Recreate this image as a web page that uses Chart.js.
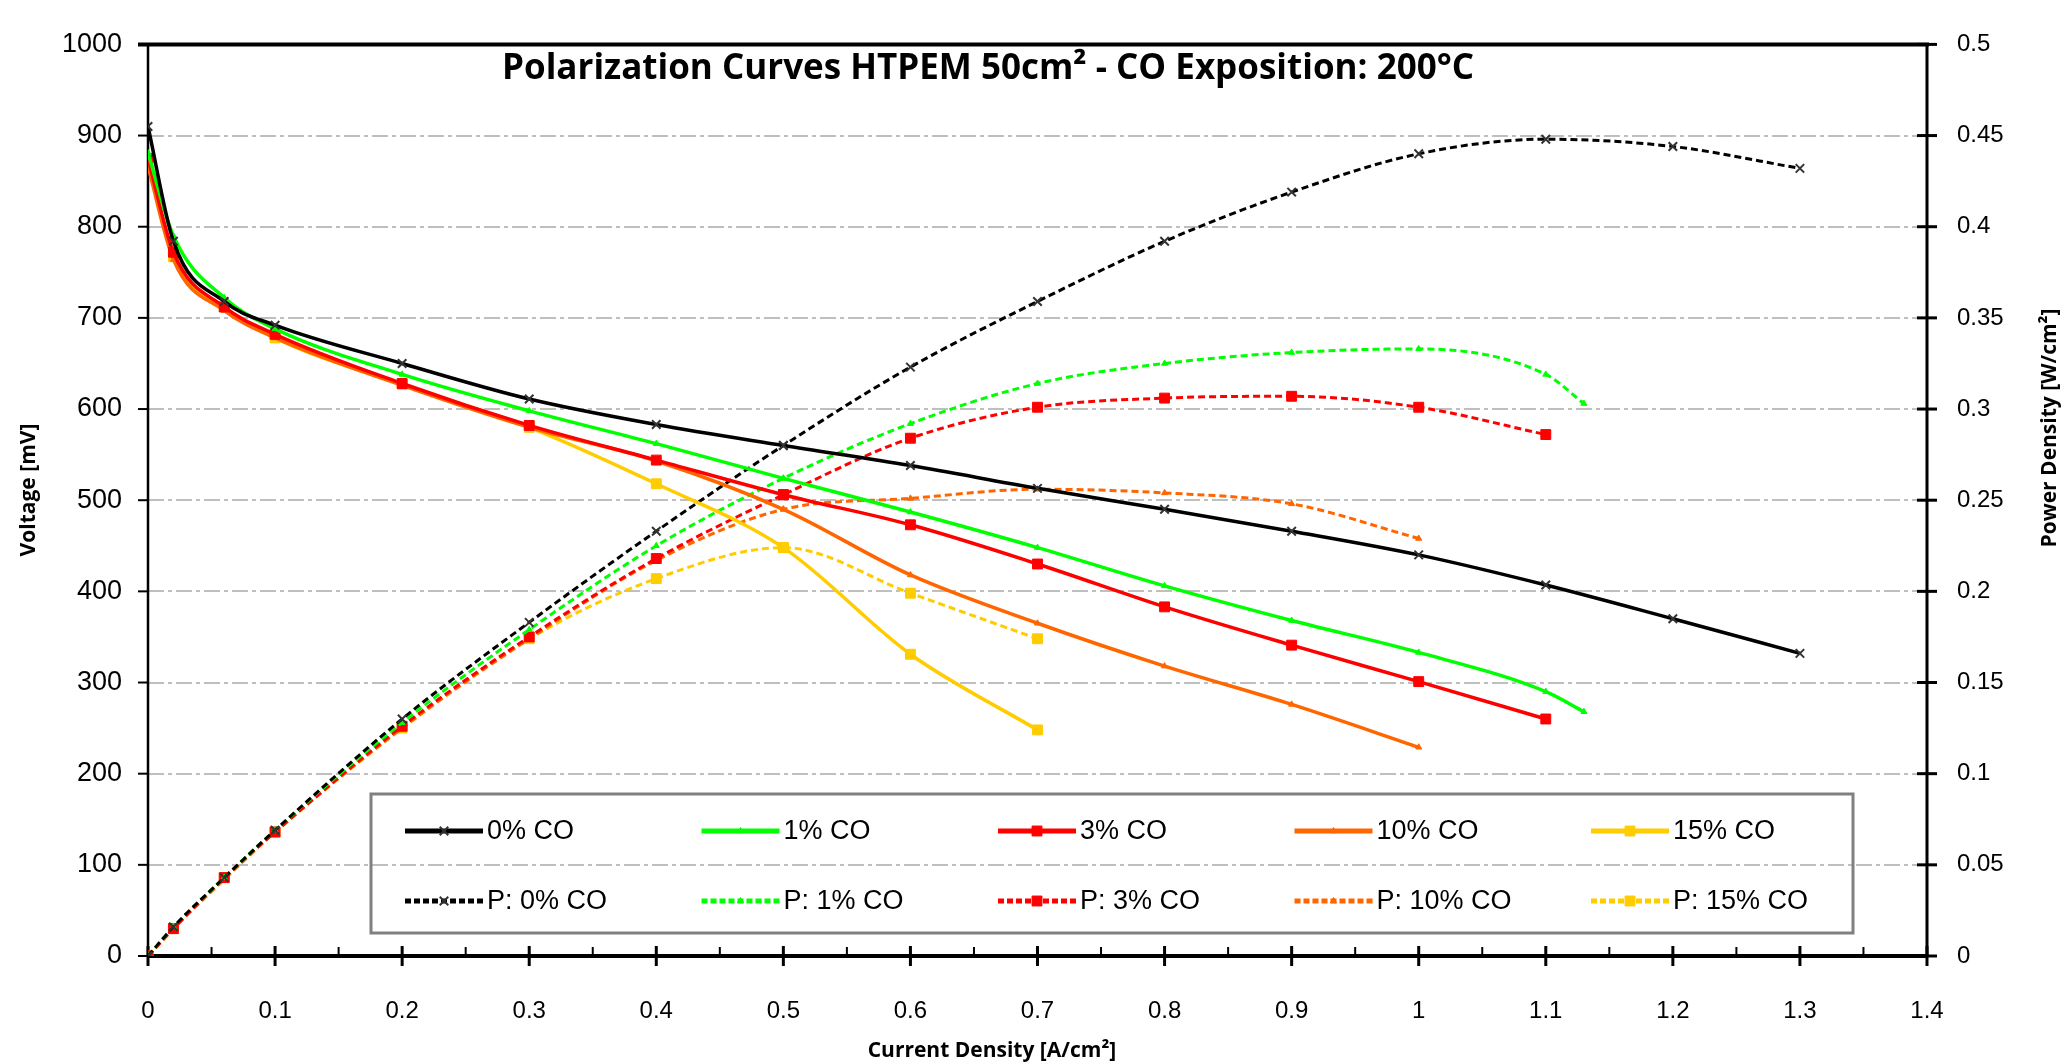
<!DOCTYPE html>
<html>
<head>
<meta charset="utf-8">
<script src="https://cdn.jsdelivr.net/npm/chart.js@4.4.1/dist/chart.umd.min.js"></script>
<style>
  body { margin: 0; background: #fff; }
</style>
</head>
<body>
<canvas id="chart" width="2066" height="1063"></canvas>
<script>
// current density [A/cm2] for each CO level
const j0 = [0, 0.02, 0.06, 0.1, 0.2, 0.3, 0.4, 0.5, 0.6, 0.7, 0.8, 0.9, 1.0, 1.1, 1.2, 1.3];
const j1 = [0, 0.02, 0.06, 0.1, 0.2, 0.3, 0.4, 0.5, 0.6, 0.7, 0.8, 0.9, 1.0, 1.1, 1.13];
const j3 = [0, 0.02, 0.06, 0.1, 0.2, 0.3, 0.4, 0.5, 0.6, 0.7, 0.8, 0.9, 1.0, 1.1];
const j10 = [0, 0.02, 0.06, 0.1, 0.2, 0.3, 0.4, 0.5, 0.6, 0.7, 0.8, 0.9, 1.0];
const j15 = [0, 0.02, 0.06, 0.1, 0.2, 0.3, 0.4, 0.5, 0.6, 0.7];

// voltage [mV]
const v0 = [910, 784, 718, 692, 650, 611, 583, 560, 538, 513, 490, 466, 440, 407, 370, 332];
const v1 = [881, 790, 722, 688, 638, 598, 562, 524, 487, 448, 406, 368, 333, 290, 268];
const v3 = [875, 772, 712, 682, 628, 582, 544, 506, 473, 430, 383, 341, 301, 260];
const v10 = [866, 764, 708, 678, 626, 580, 543, 490, 418, 365, 318, 276, 229];
const v15 = [870, 767, 712, 678, 627, 580, 518, 448, 331, 248];

// power density [W/cm2]
const p0 = [0, 0.016, 0.043, 0.069, 0.130, 0.183, 0.233, 0.280, 0.323, 0.359, 0.392, 0.419, 0.440, 0.448, 0.444, 0.432];
const p1 = [0, 0.016, 0.043, 0.069, 0.128, 0.179, 0.225, 0.262, 0.292, 0.314, 0.325, 0.331, 0.333, 0.319, 0.303];
const p3 = [0, 0.015, 0.043, 0.068, 0.126, 0.175, 0.218, 0.253, 0.284, 0.301, 0.306, 0.307, 0.301, 0.286];
const p10 = [0, 0.015, 0.042, 0.068, 0.125, 0.174, 0.217, 0.245, 0.251, 0.256, 0.254, 0.248, 0.229];
const p15 = [0, 0.015, 0.043, 0.068, 0.125, 0.174, 0.207, 0.224, 0.199, 0.174];

const labels = ["0% CO", "1% CO", "3% CO", "10% CO", "15% CO"];
const colors = ["#000000", "#00FF00", "#FF0000", "#FF6600", "#FFCC00"];
const markers = ["crossRot", "triangle", "rect", "triangle", "rect"];
const markerSize = [6, 3.5, 7, 3.5, 7];

const xs = [j0, j1, j3, j10, j15];
const volts = [v0, v1, v3, v10, v15];
const powers = [p0, p1, p3, p10, p15];

const pts = (x, y) => x.map((v, i) => ({ x: v, y: y[i] }));

function series(i, power) {
  return {
    label: power ? "P: " + labels[i] : labels[i],
    data: pts(xs[i], power ? powers[i] : volts[i]),
    yAxisID: power ? "y1" : "y",
    borderColor: colors[i],
    backgroundColor: i === 0 ? "#333333" : colors[i],
    borderWidth: power ? 3 : 3.5,
    borderDash: power ? [7, 4] : [],
    pointStyle: markers[i],
    pointRadius: markerSize[i],
    pointBorderColor: i === 0 ? "#333333" : colors[i],
    pointBorderWidth: i === 0 ? 2 : 1,
    cubicInterpolationMode: "monotone",
  };
}

const datasets = [];
for (let i = 0; i < 5; i++) datasets.push(series(i, false));
for (let i = 0; i < 5; i++) datasets.push(series(i, true));

const tickFont = { family: "Liberation Sans, Arial, sans-serif", size: 24 };
const titleFont = "'Open Sans', Lato, sans-serif";

// axes box, tick marks, titles and legend
const frame = {
  id: "frame",
  beforeDatasetsDraw(chart) {
    const { ctx, chartArea: a, scales } = chart;
    ctx.save();
    ctx.strokeStyle = "#000";
    ctx.lineCap = "butt";

    ctx.lineWidth = 3;
    scales.x.ticks.forEach((t) => {
      const px = scales.x.getPixelForValue(t.value);
      ctx.beginPath();
      ctx.moveTo(px, a.bottom - 10);
      ctx.lineTo(px, a.bottom + 10);
      ctx.stroke();
    });
    ctx.lineWidth = 2;
    scales.x.ticks.slice(0, -1).forEach((t) => {
      const px = scales.x.getPixelForValue(t.value + 0.05);
      ctx.beginPath();
      ctx.moveTo(px, a.bottom - 9);
      ctx.lineTo(px, a.bottom);
      ctx.stroke();
    });
    scales.y.ticks.forEach((t) => {
      const py = scales.y.getPixelForValue(t.value);
      ctx.beginPath();
      ctx.moveTo(a.left - 10, py);
      ctx.lineTo(a.left, py);
      ctx.stroke();
    });
    ctx.lineWidth = 3;
    scales.y1.ticks.forEach((t) => {
      const py = scales.y1.getPixelForValue(t.value);
      ctx.beginPath();
      ctx.moveTo(a.right - 10, py);
      ctx.lineTo(a.right + 10, py);
      ctx.stroke();
    });

    ctx.lineWidth = 2.5;
    ctx.beginPath();
    ctx.moveTo(a.left, a.top);
    ctx.lineTo(a.left, a.bottom);
    ctx.stroke();
    ctx.lineWidth = 3;
    ctx.beginPath();
    ctx.moveTo(a.right, a.top);
    ctx.lineTo(a.right, a.bottom);
    ctx.stroke();
    ctx.lineWidth = 4;
    ctx.beginPath();
    ctx.moveTo(a.left - 10, a.top);
    ctx.lineTo(a.right + 2, a.top);
    ctx.moveTo(a.left, a.bottom);
    ctx.lineTo(a.right, a.bottom);
    ctx.stroke();
    ctx.restore();
  },
  afterDraw(chart) {
    const { ctx } = chart;
    ctx.save();
    ctx.fillStyle = "#000";
    ctx.textAlign = "center";
    ctx.textBaseline = "middle";

    ctx.font = "bold 35px " + titleFont;
    ctx.fillText("Polarization Curves HTPEM 50cm\u00B2 - CO Exposition: 200\u00B0C", 988, 69);

    ctx.font = "bold 21px " + titleFont;
    ctx.fillText("Current Density [A/cm\u00B2]", 992, 1051);
    ctx.save();
    ctx.translate(29, 490);
    ctx.rotate(-Math.PI / 2);
    ctx.fillText("Voltage [mV]", 0, 0);
    ctx.restore();
    ctx.save();
    ctx.translate(2050, 428);
    ctx.rotate(-Math.PI / 2);
    ctx.fillText("Power Density [W/cm\u00B2]", 0, 0);
    ctx.restore();

    // legend
    ctx.strokeStyle = "#808080";
    ctx.lineWidth = 3;
    ctx.strokeRect(371, 794, 1482, 139);
    ctx.font = "27px Liberation Sans, Arial, sans-serif";
    ctx.textAlign = "left";
    chart.data.datasets.forEach((ds, k) => {
      const col = k % 5;
      const row = Math.floor(k / 5);
      const x0 = 405 + col * 296.5;
      const yy = 831 + row * 70;
      ctx.save();
      ctx.strokeStyle = ds.borderColor;
      ctx.lineWidth = 5;
      ctx.setLineDash(row ? [6, 3] : []);
      ctx.beginPath();
      ctx.moveTo(x0, yy);
      ctx.lineTo(x0 + 78, yy);
      ctx.stroke();
      ctx.setLineDash([]);
      ctx.fillStyle = ds.backgroundColor;
      ctx.strokeStyle = ds.pointBorderColor;
      ctx.lineWidth = ds.pointBorderWidth;
      Chart.helpers.drawPoint(ctx, { pointStyle: ds.pointStyle, radius: ds.pointRadius, borderWidth: ds.pointBorderWidth }, x0 + 39, yy);
      ctx.restore();
      ctx.fillText(ds.label, x0 + 82, yy + 1);
    });
    ctx.restore();
  },
};

new Chart(document.getElementById("chart"), {
  type: "line",
  data: { datasets },
  options: {
    responsive: false,
    animation: false,
    layout: { padding: { top: 21 } },
    plugins: { legend: { display: false }, tooltip: { enabled: false } },
    scales: {
      x: {
        type: "linear",
        min: 0,
        max: 1.4,
        ticks: { stepSize: 0.1, color: "#000", font: tickFont, padding: 33, maxRotation: 0,
          callback: (v) => String(+v.toFixed(1)) },
        grid: { display: false },
        border: { display: false },
        afterFit: (s) => { s.height = 107; },
      },
      y: {
        position: "left",
        min: 0,
        max: 1000,
        ticks: { stepSize: 100, color: "#000", font: { family: tickFont.family, size: 27 }, padding: 26,
          callback: (v) => String(v) },
        grid: { color: "#BFBFBF", lineWidth: 2, drawTicks: false },
        border: { display: false, dash: [16, 4, 4, 4] },
        afterFit: (s) => { s.width = 148; },
      },
      y1: {
        position: "right",
        min: 0,
        max: 0.5,
        ticks: { stepSize: 0.05, color: "#000", font: tickFont, padding: 30,
          callback: (v) => String(+v.toFixed(2)) },
        grid: { drawOnChartArea: false, drawTicks: false },
        border: { display: false },
        afterFit: (s) => { s.width = 139; },
      },
    },
  },
  plugins: [frame],
});
</script>
</body>
</html>
